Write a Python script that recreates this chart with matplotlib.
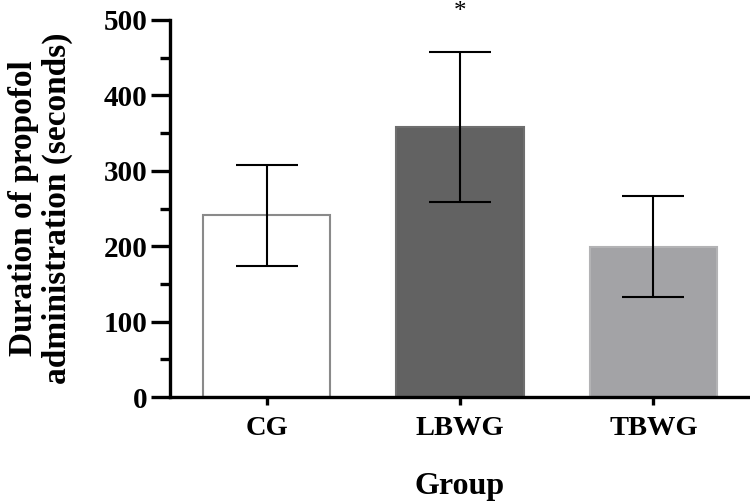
import numpy as np
import matplotlib
matplotlib.use('Agg')
from matplotlib import pyplot as plt
from matplotlib.ticker import MultipleLocator

groups = ['CG', 'LBWG', 'TBWG']
means = [241, 358, 199]
sd = [67, 99, 67]
bar_colors = ['white', '#626262', '#a3a3a6']
edge_colors = ['#8a8a8a', '#6e6e6e', '#b3b3b5']

plt.rcParams['font.family'] = ['Liberation Serif', 'DejaVu Serif']
plt.rcParams['font.weight'] = 'bold'

fig = plt.figure(figsize=(7.5, 5.03), dpi=100)
ax = fig.add_axes([170/750, 1 - 397/503, 580/750, 377/503])

x = np.arange(len(groups))
ax.bar(x, means, width=0.66, color=bar_colors, edgecolor=edge_colors, linewidth=1.5, zorder=2)
ax.errorbar(x, means, yerr=sd, fmt='none', ecolor='black', elinewidth=1.5,
            capsize=22, capthick=1.5, zorder=3)

# significance mark over LBWG
ax.text(x[1], means[1] + sd[1] + 54, '*', ha='center', va='center', fontsize=18,
        fontweight='normal', clip_on=False)

ax.set_xlim(-0.5, 2.5)
ax.set_ylim(0, 500)
ax.yaxis.set_major_locator(MultipleLocator(100))
ax.yaxis.set_minor_locator(MultipleLocator(50))
ax.set_xticks(x)
ax.set_xticklabels(groups)

for s in ['top', 'right']:
    ax.spines[s].set_visible(False)
for s in ['left', 'bottom']:
    ax.spines[s].set_linewidth(2.4)

ax.tick_params(axis='y', which='major', length=14, width=2.4, labelsize=21, pad=2)
ax.tick_params(axis='y', which='minor', length=7, width=2.4)
ax.tick_params(axis='x', which='major', length=6, width=2.4, labelsize=20.5, pad=8)

ax.set_xlabel('Group', fontsize=23, fontweight='bold', labelpad=22)
ax.set_ylabel('Duration of propofol\nadministration (seconds)', fontsize=24,
              fontweight='bold', labelpad=22, linespacing=1.12)

fig.savefig('out.png', dpi=100)
